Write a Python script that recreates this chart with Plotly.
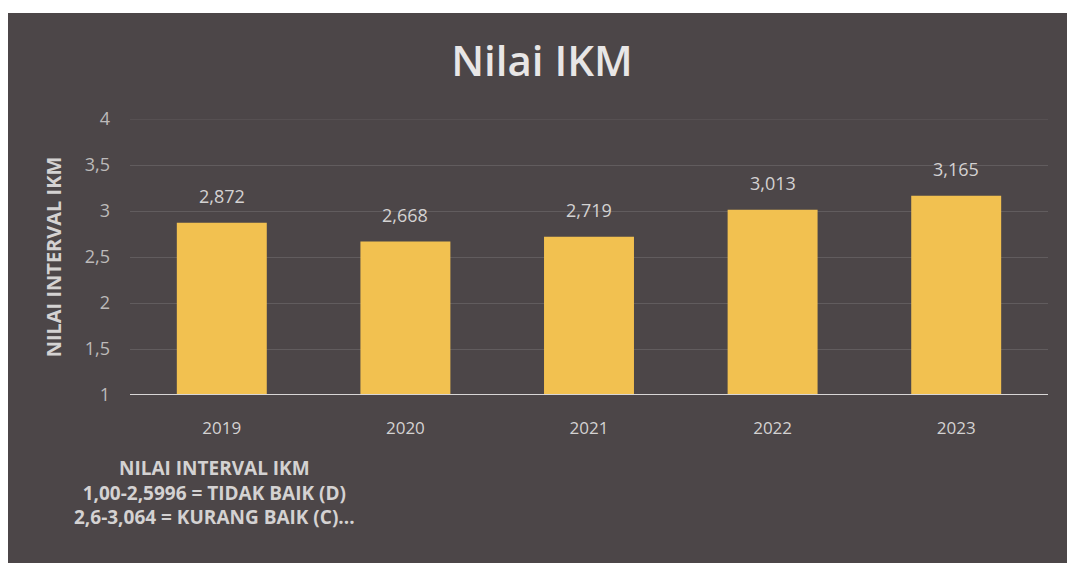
import plotly.graph_objects as go

years = ["2019", "2020", "2021", "2022", "2023"]
values = [2.872, 2.668, 2.719, 3.013, 3.165]
value_labels = ["2,872", "2,668", "2,719", "3,013", "3,165"]
y_tickvals = [1, 1.5, 2, 2.5, 3, 3.5, 4]
y_ticktext = ["1", "1,5", "2", "2,5", "3", "3,5", "4"]
note_lines = ["NILAI INTERVAL IKM", "1,00-2,5996 = TIDAK BAIK (D)", "2,6-3,064 = KURANG BAIK (C)..."]

FONT = "Open Sans, sans-serif"
TXT = "#d4d2d2"
GRID = "rgba(255,255,255,0.12)"

W, H = 1067, 563
L, R, T, B = 130, 19, 119, 168
pw, ph = W - L - R, H - T - B

def px(x):
    return (x - L) / pw

def py(y):
    return (H - B - y) / ph

fig = go.Figure()
fig.add_trace(go.Bar(
    x=years, y=values, base=0,
    marker=dict(color="#f2c150", line=dict(width=0)),
    width=0.49, hoverinfo="skip",
))

# value labels above bars (category index positions)
for i, (v, lab) in enumerate(zip(values, value_labels)):
    fig.add_annotation(x=i, y=v, xref="x", yref="y", text=lab, showarrow=False,
                       yanchor="bottom", yshift=13,
                       font=dict(family=FONT, size=18, color=TXT))

fig.add_annotation(xref="paper", yref="paper", x=px(214), y=py(492),
                   text="<br>".join(note_lines), showarrow=False,
                   align="center", xanchor="center", yanchor="middle",
                   font=dict(family=FONT, size=19, color=TXT, weight="bold"))

fig.add_shape(type="rect", xref="paper", yref="paper", layer="below",
              x0=px(8), x1=px(W + 2), y0=py(H + 2), y1=py(13),
              fillcolor="#4c4648", line=dict(width=0))

fig.update_layout(
    width=W, height=H,
    margin=dict(l=L, r=R, t=T, b=B, autoexpand=False),
    paper_bgcolor="white", plot_bgcolor="rgba(0,0,0,0)",
    showlegend=False,
    title=dict(text="Nilai IKM", xref="container", x=542 / W, xanchor="center",
               yref="container", y=1 - 61 / H, yanchor="middle",
               font=dict(family=FONT, size=42, color="#e8e6e6", weight=600)),
    xaxis=dict(type="category", range=[-0.5, 4.5], showgrid=False, showline=False,
               ticks="", zeroline=False,
               tickfont=dict(family=FONT, size=17, color=TXT), ticklabelstandoff=21),
    yaxis=dict(range=[1, 4], tickvals=y_tickvals, ticktext=y_ticktext,
               showgrid=True, gridcolor=GRID, gridwidth=1,
               zeroline=False, showline=False, ticks="", ticklabelstandoff=19,
               tickfont=dict(family=FONT, size=18, color="#bdbaba"),
               title=dict(text="<b>NILAI INTERVAL IKM</b>", standoff=17,
                          font=dict(family=FONT, size=20, color=TXT))),
)

# top gridline (plotly omits the one at the range edge)
fig.add_shape(type="line", xref="paper", yref="y", x0=0, x1=1,
              y0=max(y_tickvals), y1=max(y_tickvals),
              line=dict(color=GRID, width=1), layer="below")

fig.add_shape(type="line", xref="paper", yref="y", x0=0, x1=1, y0=1, y1=1,
              line=dict(color="#d8d6d6", width=2), layer="above")

fig.write_html("out.html")
